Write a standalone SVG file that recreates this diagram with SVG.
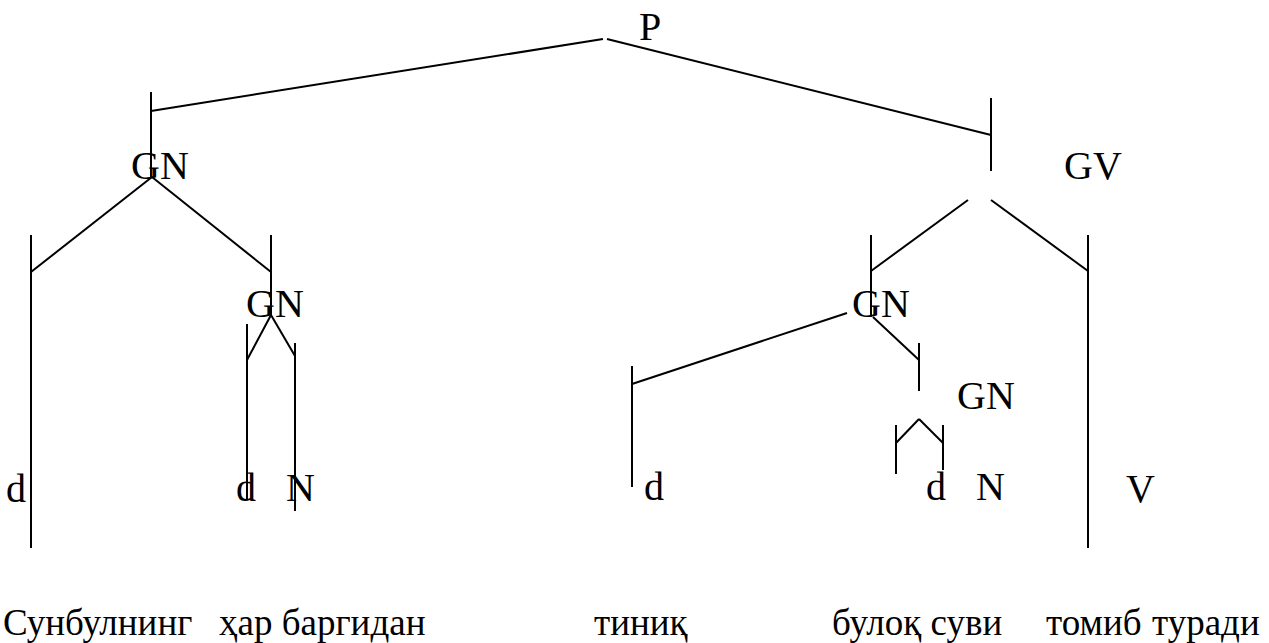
<svg xmlns="http://www.w3.org/2000/svg" width="1269" height="643" viewBox="0 0 1269 643">
  <style>
    text { font-family: "Liberation Serif", "Times New Roman", serif; font-size: 40px; fill: #000; }
    .word { font-size: 37px; }
    .edge { stroke: #000; stroke-width: 2; fill: none; stroke-linecap: butt; }
  </style>
  <rect width="1269" height="643" fill="#fff"/>

  <!-- tree branches -->
  <g id="connectors" class="edge">
    <path d="M603,39 L151,111"/>
    <path d="M607,39 L991,135"/>
    <path d="M151,92 V177"/>
    <path d="M991,98 V171"/>

    <path d="M152,177 L31,272"/>
    <path d="M152,177 L271,272"/>
    <path d="M31,235 V548"/>
    <path d="M271,235 V315"/>

    <path d="M271,315 L247,360"/>
    <path d="M271,315 L295,356"/>
    <path d="M247,324 V500"/>
    <path d="M295,343 V511"/>

    <path d="M968,200 L871,271"/>
    <path d="M991,200 L1088,271"/>
    <path d="M871,235 V317"/>
    <path d="M1088,235 V548"/>

    <path d="M847,313 L632,384"/>
    <path d="M632,366 V487"/>
    <path d="M873,317 L919,360"/>
    <path d="M919,343 V391"/>

    <path d="M919,419 L896,443"/>
    <path d="M919,419 L943,443"/>
    <path d="M896,425 V474"/>
    <path d="M943,425 V470"/>
  </g>

  <!-- category labels -->
  <g id="node-P"><text x="639" y="40">P</text></g>
  <g id="node-GN1"><text x="131" y="179">GN</text></g>
  <g id="node-GV"><text x="1064" y="179">GV</text></g>
  <g id="node-GN2"><text x="246" y="317">GN</text></g>
  <g id="node-GN3"><text x="852" y="317">GN</text></g>
  <g id="node-GN4"><text x="957" y="409">GN</text></g>

  <g id="node-d1"><text x="6" y="502">d</text></g>
  <g id="node-d2"><text x="236" y="501">d</text></g>
  <g id="node-N2"><text x="286" y="501">N</text></g>
  <g id="node-d3"><text x="644" y="500">d</text></g>
  <g id="node-d4"><text x="926" y="500">d</text></g>
  <g id="node-N4"><text x="976" y="500">N</text></g>
  <g id="node-V"><text x="1126" y="502">V</text></g>

  <!-- sentence words -->
  <g id="words">
    <text class="word" x="3" y="635">Сунбулнинг</text>
    <text class="word" x="219" y="635">ҳар баргидан</text>
    <text class="word" x="594" y="635">тиниқ</text>
    <text class="word" x="832" y="635">булоқ суви</text>
    <text class="word" x="1046" y="635">томиб</text>
    <text class="word" x="1152" y="635">туради</text>
  </g>
</svg>
